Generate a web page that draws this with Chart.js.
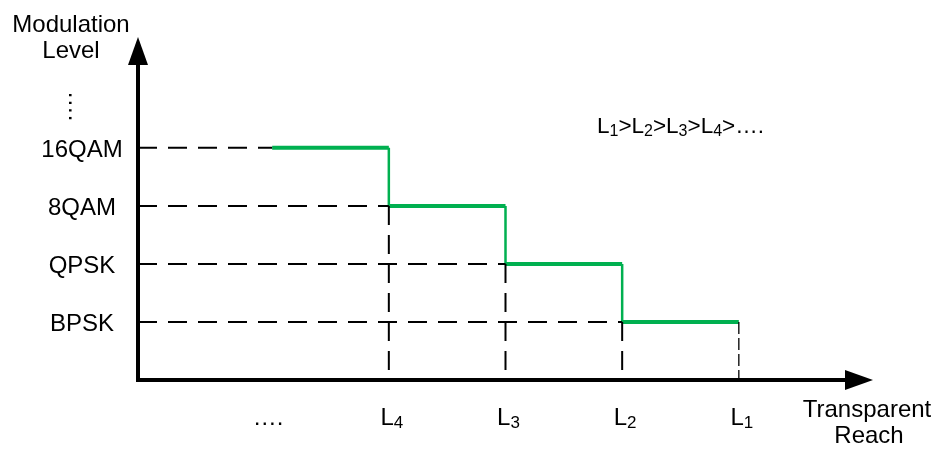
<!DOCTYPE html>
<html lang="en">
<head>
  <meta charset="UTF-8">
  <title>Modulation Level vs Transparent Reach</title>
  <script src="https://cdn.jsdelivr.net/npm/chart.js"></script>
  <style>
    html, body { margin: 0; padding: 0; background: #fff; }
    #wrap { width: 939px; height: 450px; }
  </style>
</head>
<body>
  <div id="wrap"><canvas id="chart" width="939" height="450"></canvas></div>

  <script>
    // y = 1..4
    const levelNames = ['BPSK', 'QPSK', '8QAM', '16QAM'];
    // x = 0..4
    const reachNames = ['….', 'L4', 'L3', 'L2', 'L1'];
    // level held between reach i and i+1
    const stepLevels = [4, 3, 2, 1];
    const yTitle = ['Modulation', 'Level'];
    const xTitle = ['Transparent', 'Reach'];
    const orderNote = 'L1>L2>L3>L4>….';

    const FONT = '"Liberation Sans", Arial, sans-serif';
    const GREEN = '#00b050';
    const X_MIN = -1.15, X_MAX = 5.15, Y_MAX = 5.91;

    // green step, horizontal parts
    const stepFlat = [];
    stepLevels.forEach((lvl, i) => {
      stepFlat.push({ x: i, y: lvl }, { x: i + 1, y: lvl }, { x: i + 1, y: null });
    });
    // green step, vertical parts
    const stepRise = [];
    for (let i = 0; i < stepLevels.length - 1; i++) {
      stepRise.push({ x: i + 1, y: stepLevels[i] }, { x: i + 1, y: stepLevels[i + 1] }, { x: i + 1, y: null });
    }
    // dashed guides from the y axis to where each level starts
    const guideH = [];
    stepLevels.forEach((lvl, i) => {
      guideH.push({ x: X_MIN, y: lvl }, { x: i, y: lvl }, { x: i, y: null });
    });
    // dashed guides down to the x axis
    const guideV = [];
    for (let i = 0; i < stepLevels.length - 1; i++) {
      guideV.push({ x: i + 1, y: stepLevels[i + 1] }, { x: i + 1, y: 0 }, { x: i + 1, y: null });
    }
    const last = stepLevels.length;
    const guideEnd = [{ x: last, y: stepLevels[last - 1] }, { x: last, y: 0 }];

    function drawRich(ctx, str, x, y, size, subSize, align) {
      const parts = [];
      for (let i = 0; i < str.length; i++) {
        const c = str[i];
        parts.push({ t: c, sub: /\d/.test(c) && str[i - 1] === 'L' });
      }
      let w = 0;
      parts.forEach(p => {
        ctx.font = (p.sub ? subSize : size) + 'px ' + FONT;
        p.w = ctx.measureText(p.t).width;
        w += p.w;
      });
      let cx = align === 'center' ? x - w / 2 : x;
      ctx.textAlign = 'left';
      ctx.textBaseline = 'alphabetic';
      parts.forEach(p => {
        ctx.font = (p.sub ? subSize : size) + 'px ' + FONT;
        ctx.fillText(p.t, cx, y + (p.sub ? 3 : 0));
        cx += p.w;
      });
    }

    const axesPlugin = {
      id: 'axes',
      afterDatasetsDraw(chart) {
        const ctx = chart.ctx;
        const xs = chart.scales.x, ys = chart.scales.y;
        const x0 = xs.getPixelForValue(X_MIN);
        const y0 = ys.getPixelForValue(0);
        const yTop = ys.getPixelForValue(Y_MAX);
        const xEnd = xs.getPixelForValue(X_MAX);
        ctx.save();
        ctx.strokeStyle = '#000';
        ctx.fillStyle = '#000';
        ctx.lineWidth = 4;
        ctx.lineCap = 'butt';
        ctx.beginPath();
        ctx.moveTo(x0, y0 + 2);
        ctx.lineTo(x0, yTop + 26);
        ctx.moveTo(x0 - 2, y0);
        ctx.lineTo(xEnd - 26, y0);
        ctx.stroke();
        // arrow heads
        ctx.beginPath();
        ctx.moveTo(x0, yTop);
        ctx.lineTo(x0 - 10, yTop + 28);
        ctx.lineTo(x0 + 10, yTop + 28);
        ctx.closePath();
        ctx.fill();
        ctx.beginPath();
        ctx.moveTo(xEnd, y0);
        ctx.lineTo(xEnd - 28, y0 - 10);
        ctx.lineTo(xEnd - 28, y0 + 10);
        ctx.closePath();
        ctx.fill();

        // y tick labels
        ctx.font = '24px ' + FONT;
        ctx.textAlign = 'center';
        ctx.textBaseline = 'alphabetic';
        levelNames.forEach((name, i) => {
          ctx.fillText(name, 82, ys.getPixelForValue(i + 1) + 9);
        });
        // vertical dots above 16QAM
        ctx.save();
        ctx.translate(69, ys.getPixelForValue(levelNames.length + 0.72));
        ctx.rotate(Math.PI / 2);
        ctx.font = '24px ' + FONT;
        ctx.fillText('….', 0, 0);
        ctx.restore();

        // x tick labels
        reachNames.forEach((name, i) => {
          const px = xs.getPixelForValue(i);
          drawRich(ctx, name, name.startsWith('L') ? px + 3 : px - 4, 425, 24, 17, 'center');
        });

        // axis titles
        ctx.font = '24px ' + FONT;
        ctx.textAlign = 'center';
        ctx.fillText(yTitle[0], 71, 32);
        ctx.fillText(yTitle[1], 71, 58);
        ctx.fillText(xTitle[0], 867, 417);
        ctx.fillText(xTitle[1], 869, 443);

        // ordering note
        drawRich(ctx, orderNote, 597, 133, 22.5, 16, 'left');
        ctx.restore();
      }
    };

    const ctx = document.getElementById('chart').getContext('2d');
    new Chart(ctx, {
      type: 'line',
      data: {
        datasets: [
          { data: guideH, borderColor: '#000', borderWidth: 2, borderDash: [19, 11] },
          { data: guideV, borderColor: '#000', borderWidth: 2, borderDash: [19, 10] },
          { data: guideEnd, borderColor: '#000', borderWidth: 1.3, borderDash: [12, 4] },
          { data: stepRise, borderColor: GREEN, borderWidth: 2.5 },
          { data: stepFlat, borderColor: GREEN, borderWidth: 4 }
        ]
      },
      options: {
        responsive: false,
        animation: false,
        spanGaps: false,
        elements: { point: { radius: 0 }, line: { tension: 0, fill: false } },
        layout: { padding: { left: 138, right: 66, top: 37, bottom: 70 } },
        scales: {
          x: { type: 'linear', min: X_MIN, max: X_MAX, display: false },
          y: { type: 'linear', min: 0, max: Y_MAX, display: false }
        },
        plugins: { legend: { display: false }, tooltip: { enabled: false } }
      },
      plugins: [axesPlugin]
    });
  </script>
</body>
</html>
